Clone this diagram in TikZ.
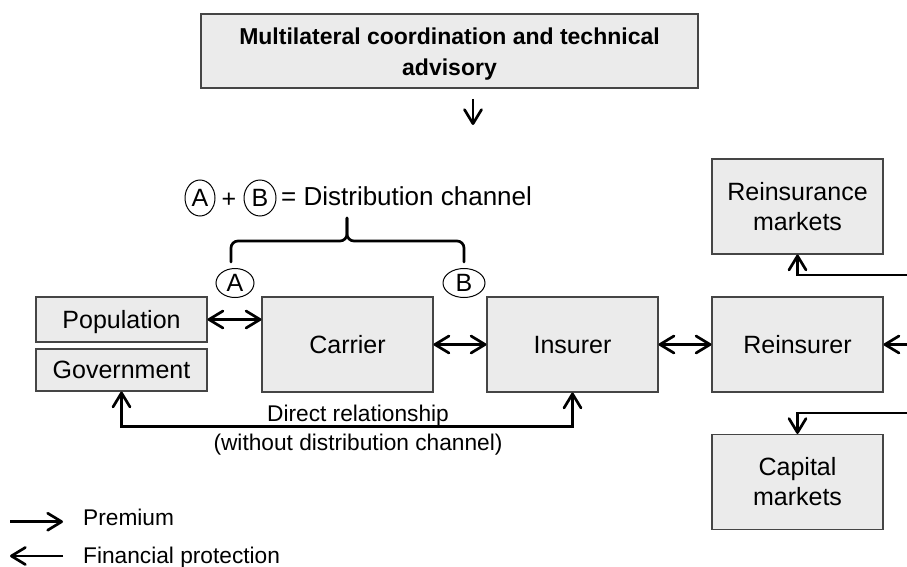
\documentclass[tikz,border=0pt]{standalone}
\usepackage{fontspec}
\setmainfont{Liberation Sans}
\usetikzlibrary{arrows.meta,shapes.geometric}
\definecolor{boxfill}{HTML}{EBEBEB}
\definecolor{boxline}{HTML}{454545}
\begin{document}
\begin{tikzpicture}[x=1pt,y=-1pt,
  box/.style={draw=boxline, fill=boxfill, line width=1.2pt, inner sep=0pt,
    minimum width=171pt, minimum height=95pt, font=\fontsize{25}{30}\selectfont, align=center},
  single/.style={text depth=0pt},
  tip/.tip={Straight Barb[length=14pt,width=17pt,round]},
  flow/.style={line width=2.7pt, -tip},
  both/.style={line width=2.7pt, tip-tip},
  oval/.style={draw, ellipse, line width=1pt, inner sep=0pt, font=\fontsize{25}{28}\selectfont},
  lbl/.style={font=\fontsize{22.7}{27}\selectfont, inner sep=0pt},
  bracket/.style={line width=2.7pt, rounded corners=7pt, line cap=round},
]
\useasboundingbox (0,0) rectangle (907,567);

% top box
\node[box, minimum width=497pt, minimum height=74pt] (adv) at (449.5,51) {};
\node[font=\bfseries\fontsize{23}{31}\selectfont, align=center, inner sep=0pt] (advtxt) at (449.5,54.5)
  {Multilateral coordination and technical\\advisory};
\coordinate (d1) at (473,99);
\coordinate (d2) at (473,125);
\draw[flow] (d1) -- (d2);

% distribution channel legend
\node[oval, minimum width=30pt, minimum height=36pt] (ta) at (200,198) {A};
\node[inner sep=0pt, font=\fontsize{25}{28}\selectfont] (plus) at (229,200) {+};
\node[oval, minimum width=32pt, minimum height=36pt] (tb) at (260,198) {B};
\node[anchor=west, inner sep=0pt, font=\fontsize{26}{30}\selectfont] (dc) at (281,196) {= Distribution channel};

% bracket
\coordinate (bl) at (231,262);
\coordinate (br) at (464,262);
\coordinate (bt) at (347,218);
\draw[bracket] (bl) -- (231,241) -- (347,241) -- (bt);
\draw[bracket] (br) -- (464,241) -- (347,241) -- (bt);

\node[oval, minimum width=38pt, minimum height=29pt] (la) at (235,283) {A};
\node[oval, minimum width=42pt, minimum height=29pt] (lb) at (464,283) {B};

% main boxes
\node[box, single, minimum height=45pt] (pop) at (121.5,319.5) {Population};
\node[box, single, minimum height=42pt] (gov) at (121.5,370) {Government};
\node[box, single] (car) at (347.5,344.5) {Carrier};
\node[box, single] (ins) at (572.5,344.5) {Insurer};
\node[box, single] (rei) at (797.5,344.5) {Reinsurer};
\node[box] (rm) at (797.5,206.5) {Reinsurance\\markets};
\node[box] (cm) at (797.5,482) {Capital\\markets};

% connectors
\draw[both] (pop.east) -- (pop.east -| car.west);
\draw[both] (car.east) -- (ins.west);
\draw[both] (ins.east) -- (rei.west);
\coordinate (e1) at (907,344.5);
\coordinate (e2) at (907,275);
\coordinate (e3) at (907,413);
\draw[flow] (e1) -- (rei.east);
\draw[flow] (e2) -| (rm.south);
\draw[flow] (e3) -| (cm.north);
\draw[both] (gov.south) -- ++(0,35) -| (ins.south);
\node[lbl, anchor=base] (dr) at (358,421) {Direct relationship};
\node[lbl, anchor=base] (wd) at (358,450) {(without distribution channel)};

% legend
\coordinate (l1a) at (10,521.7);
\coordinate (l1b) at (63,521.7);
\draw[flow] (l1a) -- (l1b);
\node[lbl, anchor=base west] (prem) at (83,525) {Premium};
\coordinate (l2a) at (63,556);
\coordinate (l2b) at (10,556);
\draw[flow] (l2a) -- (l2b);
\node[lbl, anchor=base west] (fp) at (83,563.5) {Financial protection};
\end{tikzpicture}
\end{document}
